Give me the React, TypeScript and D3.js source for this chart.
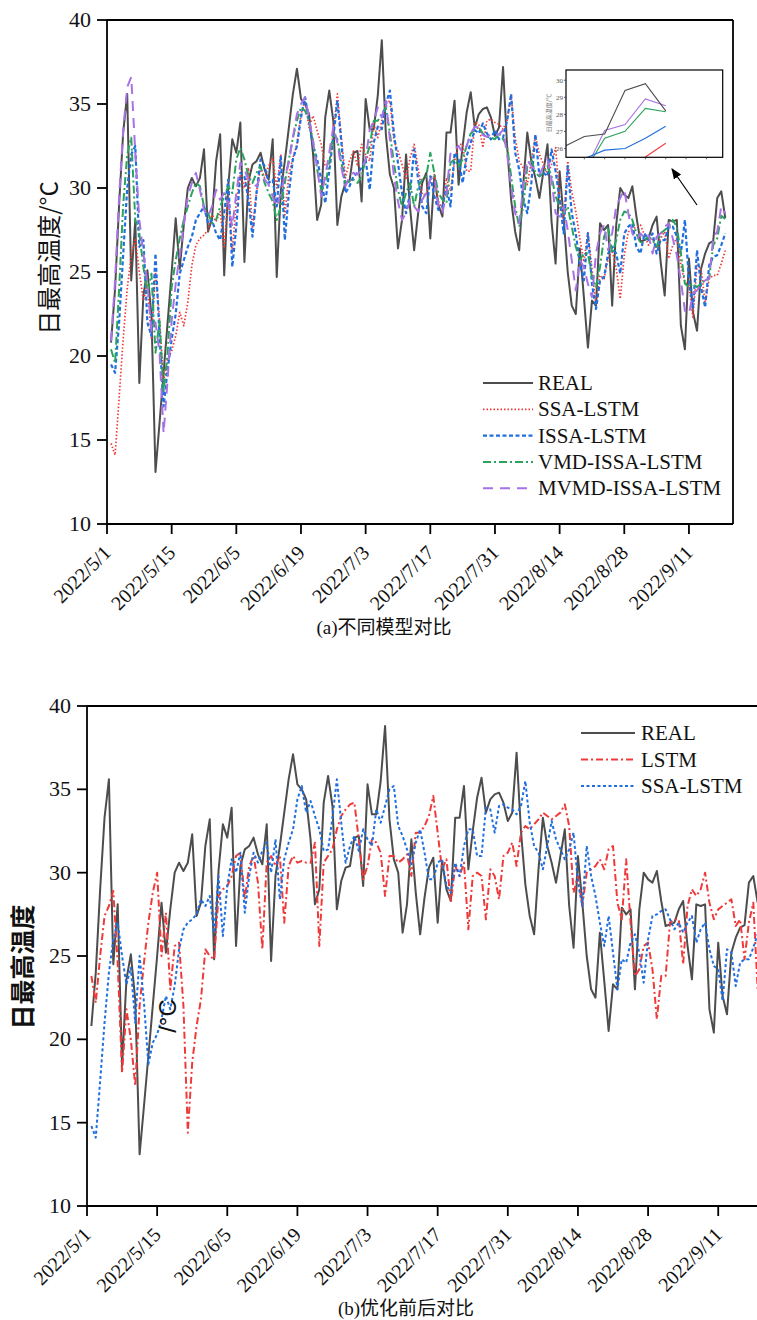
import React from 'react';
import * as d3 from 'd3';

// x axis: one tick every 16 points, labelled with these dates
const dateLabels = [
  '2022/5/1', '2022/5/15', '2022/6/5', '2022/6/19', '2022/7/3',
  '2022/7/17', '2022/7/31', '2022/8/14', '2022/8/28', '2022/9/11',
];
const TICK_EVERY = 16;
const yTicks = [10, 15, 20, 25, 30, 35, 40];

const real = [
  20.8, 24.0, 29.0, 33.3, 35.6, 24.5, 28.1, 18.4, 23.6, 25.1,
  22.4, 13.1, 16.0, 19.0, 22.0, 25.0, 28.2, 25.2, 27.8, 30.0,
  30.6, 30.1, 30.6, 32.3, 27.4, 28.2, 31.6, 33.2, 24.8, 30.1,
  32.9, 32.1, 33.9, 25.6, 30.4, 31.4, 31.6, 32.1, 31.1, 30.5,
  32.9, 24.7, 29.8, 31.6, 33.6, 35.6, 37.1, 35.3, 35.0, 34.4,
  32.0, 28.1, 29.0, 34.2, 35.8, 34.0, 27.8, 29.5, 30.3, 30.4,
  32.1, 32.2, 29.2, 35.3, 33.5, 33.5, 35.5, 38.8, 33.2, 30.8,
  30.0, 26.4, 28.1, 32.0, 28.8, 26.3, 28.5, 30.3, 30.9, 27.0,
  30.7, 29.0, 28.3, 33.3, 33.3, 35.2, 30.2, 32.5, 34.5, 35.7,
  33.6, 34.4, 34.7, 34.8, 34.2, 33.1, 33.6, 37.2, 32.5, 29.3,
  27.4, 26.3, 30.2, 33.3, 31.6, 30.6, 29.4, 31.0, 32.6, 28.0,
  25.5, 31.0, 28.2, 25.0, 23.0, 22.5, 26.4, 23.5, 20.5, 23.3,
  23.0, 27.9, 27.5, 27.8, 23.0, 27.8, 30.0, 29.6, 29.4, 30.1,
  28.3, 26.8, 26.9, 27.0, 27.8, 28.3, 25.6, 23.6, 28.1, 28.0,
  28.1, 21.8, 20.4, 25.8, 22.6, 21.5, 25.2, 26.1, 26.7, 26.85,
  29.4, 29.8, 28.2,
];

const ssaLstm = [
  14.8, 14.1, 17.5, 21.0, 24.0, 26.0, 27.0, 25.0, 23.3, 24.3,
  21.0, 25.0, 22.2, 18.5, 19.8, 20.3, 21.2, 22.6, 21.8, 23.2,
  25.4, 26.6, 27.0, 27.2, 27.5, 28.4, 28.0, 28.6, 26.4, 29.8,
  26.2, 29.2, 30.8, 30.0, 31.2, 27.6, 29.8, 31.2, 30.6, 31.3,
  31.8, 30.0, 32.0, 28.4, 30.8, 31.8, 32.6, 34.4, 35.2, 33.6,
  34.3, 33.4, 32.6, 31.3, 31.4, 33.3, 35.6, 33.0, 30.6, 31.6,
  32.2, 31.3, 32.6, 32.0, 31.6, 33.8, 33.0, 34.0, 35.0, 35.2,
  32.8, 32.2, 31.4, 30.5, 31.8, 32.6, 31.2, 29.6, 29.6, 30.6,
  30.8, 29.2, 28.8, 30.6, 29.8, 31.6, 32.6, 32.6, 31.0, 31.0,
  33.9, 33.8, 32.4, 34.0, 34.1, 33.9, 33.8, 33.5, 34.0, 35.5,
  33.0, 31.6, 31.2, 30.2, 31.6, 33.1, 32.0, 31.4, 30.8, 31.4,
  32.4, 29.4, 28.0, 31.6, 29.8, 28.6, 27.0, 25.6, 27.4, 25.2,
  23.0, 24.8, 24.6, 25.8, 26.3, 25.2, 23.4, 26.0, 27.4, 27.5,
  27.7, 27.8, 27.2, 26.6, 27.0, 26.4, 27.0, 27.4, 25.8, 26.6,
  27.0, 25.4, 24.4, 24.2, 22.3, 25.4, 25.2, 23.2, 24.6, 24.8,
  24.8, 25.5, 26.3,
];

const issaLstm = [
  19.5, 19.0, 22.0, 26.0, 30.0, 32.0, 32.5, 26.5, 26.9, 22.0,
  21.2, 26.1, 21.2, 17.0, 19.2, 21.0, 22.5, 24.9, 25.7, 26.5,
  27.1, 28.1, 28.5, 28.9, 27.9, 28.1, 27.3, 26.9, 28.5, 30.5,
  25.3, 27.7, 30.9, 30.7, 29.3, 27.1, 29.7, 31.7, 31.3, 30.3,
  30.5, 28.9, 31.9, 26.9, 29.7, 31.7, 32.5, 34.2, 35.4, 34.0,
  32.5, 31.7, 30.5, 29.1, 31.0, 33.0, 35.2, 32.7, 29.7, 30.1,
  30.7, 30.9, 31.2, 31.7, 29.9, 32.7, 33.65, 33.5, 35.0, 35.8,
  33.25, 31.5, 29.7, 28.5, 29.7, 32.3, 30.5, 28.9, 28.5, 30.7,
  29.5, 28.7, 28.9, 30.1, 28.9, 32.1, 31.7, 30.3, 31.9, 32.7,
  33.45, 33.25, 33.85, 33.25, 32.9, 33.45, 32.9, 33.0, 34.0, 35.6,
  32.1, 31.1, 29.3, 28.5, 30.3, 33.2, 30.7, 30.9, 30.7, 32.3,
  31.0, 29.3, 27.3, 31.3, 28.5, 27.3, 25.5, 24.5, 27.3, 24.3,
  22.8, 24.5, 24.7, 26.1, 26.5, 26.1, 24.9, 27.3, 27.7, 27.9,
  26.5, 26.1, 27.3, 26.9, 27.3, 26.1, 26.9, 26.9, 27.7, 27.7,
  27.1, 26.1, 28.1, 24.5, 22.9, 26.3, 24.1, 22.9, 25.4, 25.9,
  26.0, 26.6, 27.3,
];

const vmdIssaLstm = [
  20.4, 19.6, 24.0, 29.0, 32.0, 33.0, 28.1, 27.3, 25.3, 23.7,
  24.9, 20.2, 22.1, 17.8, 20.2, 24.1, 25.7, 27.0, 28.1, 28.9,
  29.7, 30.3, 30.1, 28.9, 28.5, 27.9, 28.1, 28.9, 29.5, 30.1,
  29.7, 31.7, 32.4, 31.7, 30.7, 30.3, 30.9, 31.3, 30.3, 29.7,
  29.2, 28.1, 28.9, 30.3, 31.7, 33.0, 34.0, 34.8, 34.6, 34.0,
  32.8, 31.1, 29.9, 30.1, 31.5, 33.25, 32.9, 31.5, 30.3, 30.4,
  30.5, 30.3, 30.7, 31.7, 32.5, 34.0, 34.0, 34.4, 34.8, 33.25,
  31.5, 29.9, 28.9, 29.7, 30.3, 28.9, 30.1, 30.5, 30.7, 32.1,
  30.9, 29.7, 29.3, 29.1, 31.5, 31.7, 31.3, 31.7, 32.5, 33.25,
  33.45, 33.65, 33.25, 33.05, 33.0, 32.9, 33.25, 32.9, 32.5, 30.7,
  28.9, 27.7, 28.9, 31.3, 31.7, 30.9, 30.7, 30.9, 31.3, 30.7,
  29.5, 28.9, 28.5, 28.9, 27.7, 26.5, 25.7, 26.1, 26.1, 24.7,
  24.1, 25.3, 27.1, 27.7, 26.1, 26.9, 28.1, 28.6, 28.5, 28.1,
  27.3, 26.7, 26.9, 27.1, 26.9, 26.5, 27.3, 27.5, 27.7, 28.1,
  27.7, 26.1, 24.3, 24.1, 24.3, 24.1, 24.3, 24.5, 24.6, 26.6,
  27.0, 28.35, 28.15,
];

const mvmdIssaLstm = [
  20.9, 24.5, 29.5, 33.4, 36.0, 36.6, 32.1, 28.1, 26.1, 24.3,
  21.5, 22.0, 20.2, 15.4, 18.6, 22.1, 24.3, 26.0, 27.8, 29.5,
  30.3, 30.9, 29.9, 28.7, 28.3, 28.9, 29.9, 29.3, 29.7, 29.1,
  27.7, 29.7, 31.5, 31.1, 30.5, 30.3, 30.1, 30.7, 30.5, 30.2,
  29.5, 28.9, 29.7, 30.7, 31.5, 33.0, 34.4, 35.0, 35.4, 34.2,
  32.7, 31.2, 29.5, 30.7, 32.1, 33.65, 32.7, 31.2, 30.1, 30.7,
  30.9, 30.8, 31.1, 31.7, 33.45, 34.0, 34.8, 34.2, 35.2, 32.9,
  30.7, 29.2, 28.1, 28.5, 29.3, 28.9, 28.6, 29.3, 29.7, 30.5,
  30.7, 28.9, 28.5, 29.7, 32.1, 32.3, 32.5, 32.1, 32.5, 33.25,
  33.65, 33.6, 33.15, 33.05, 33.2, 33.1, 33.2, 33.45, 32.0, 30.1,
  28.5, 27.9, 30.1, 31.7, 31.3, 31.1, 30.8, 31.3, 31.7, 30.5,
  28.5, 28.3, 28.9, 27.5, 25.7, 23.9, 25.7, 25.3, 24.3, 23.5,
  26.1, 27.3, 27.8, 26.3, 27.3, 28.9, 29.4, 29.9, 28.5, 27.3,
  26.9, 27.3, 27.0, 27.2, 26.1, 27.1, 27.3, 27.7, 27.9, 27.0,
  26.0, 24.5, 22.7, 22.5, 23.7, 23.9, 24.3, 24.5, 24.6, 27.05,
  27.4, 28.9, 28.5,
];

const lstm = [
  23.8, 22.2, 25.0, 27.4, 28.0, 28.9, 24.6, 18.0, 21.8, 20.0,
  17.2, 22.0, 24.6, 27.0, 28.8, 30.0, 25.0, 27.6, 23.0, 25.6,
  25.8, 22.0, 14.4, 18.6, 20.8, 22.4, 25.4, 25.0, 24.8, 28.6,
  29.0, 29.2, 29.8, 31.0, 31.2, 28.4, 30.4, 31.0, 29.4, 25.4,
  30.6, 31.0, 30.4, 31.0, 27.0, 30.4, 31.0, 30.6, 30.7, 30.6,
  30.6, 31.8, 25.6, 30.6, 31.0, 31.4, 32.6, 33.4, 33.8, 34.1,
  34.2, 32.0, 29.6, 30.4, 32.0, 31.8, 31.2, 28.6, 31.0, 31.0,
  30.6, 30.8, 31.1, 29.8, 32.4, 32.4, 32.8, 33.4, 34.6, 32.4,
  30.2, 30.8, 28.2, 30.4, 29.8, 30.6, 26.6, 29.8, 30.0, 29.8,
  27.2, 30.2, 29.8, 28.4, 31.0, 31.2, 31.8, 30.4, 32.4, 32.8,
  32.6, 32.9, 33.2, 33.6, 33.4, 33.2, 33.4, 33.6, 34.1, 32.8,
  28.8, 29.8, 28.0, 30.0, 30.2, 30.4, 30.8, 30.2, 31.4, 31.6,
  28.2, 27.2, 30.8, 27.0, 23.8, 24.2, 25.6, 25.8, 24.2, 21.2,
  23.8, 23.8, 27.0, 27.2, 27.2, 24.5, 28.0, 29.0, 28.6, 29.0,
  30.0, 28.2, 27.2, 27.8, 28.0, 28.2, 28.4, 26.8, 27.2, 24.8,
  27.0, 28.2, 23.0,
];

const serif = '"Liberation Serif", "DejaVu Serif", serif';
const cjk = '"Noto Sans CJK SC", sans-serif';
const GRAY = '#4d4d4d';
const RED = '#f03a3a';
const BLUE = '#1f6fe0';
const GREEN = '#2aa35c';
const PURPLE = '#a872e6';

type Series = { name: string; values: number[]; color: string; width: number; dash?: string };

const seriesA: Series[] = [
  { name: 'REAL', values: real, color: GRAY, width: 2 },
  { name: 'SSA-LSTM', values: ssaLstm, color: RED, width: 1.7, dash: '1.5,2' },
  { name: 'ISSA-LSTM', values: issaLstm, color: BLUE, width: 2.2, dash: '4,2.5' },
  { name: 'VMD-ISSA-LSTM', values: vmdIssaLstm, color: GREEN, width: 2, dash: '8,3,2,3' },
  { name: 'MVMD-ISSA-LSTM', values: mvmdIssaLstm, color: PURPLE, width: 2, dash: '10,7' },
];

const seriesB: Series[] = [
  { name: 'REAL', values: real, color: GRAY, width: 2 },
  { name: 'LSTM', values: lstm, color: RED, width: 2, dash: '7,3,2,3' },
  { name: 'SSA-LSTM', values: ssaLstm, color: BLUE, width: 2, dash: '3,2.5' },
];

const N_DOMAIN = 154.9;

type PanelProps = {
  id: string;
  left: number; right: number; top: number; bottom: number;
  series: Series[];
  legend: { x1: number; x2: number; tx: number; y0: number; step: number };
  frameRight: boolean;
};

const Panel = ({ id, left, right, top, bottom, series, legend, frameRight }: PanelProps) => {
  const x = d3.scaleLinear().domain([0, N_DOMAIN]).range([left, right]);
  const y = d3.scaleLinear().domain([10, 40]).range([bottom, top]);
  const line = d3.line<number>().x((_, i) => x(i + 1)).y(d => y(d));
  const xTicks = dateLabels.map((_, i) => i * TICK_EVERY);

  return (
    <g>
      <defs>
        <clipPath id={`clip-${id}`}>
          <rect x={left} y={top} width={right - left} height={bottom - top} />
        </clipPath>
      </defs>
      <g clipPath={`url(#clip-${id})`}>
        {series.map(s => (
          <path key={s.name} d={line(s.values) || ''} fill="none" stroke={s.color}
            strokeWidth={s.width} strokeDasharray={s.dash} strokeLinejoin="round" />
        ))}
      </g>
      {/* frame */}
      <line x1={left} x2={right} y1={top} y2={top} stroke="#000" strokeWidth={1.8} />
      <line x1={left} x2={right} y1={bottom} y2={bottom} stroke="#000" strokeWidth={1.8} />
      <line x1={left} x2={left} y1={top} y2={bottom} stroke="#000" strokeWidth={1.8} />
      {frameRight && <line x1={right} x2={right} y1={top} y2={bottom} stroke="#000" strokeWidth={1.8} />}
      {/* y axis */}
      {yTicks.map(t => (
        <g key={t}>
          <line x1={left - 10} x2={left} y1={y(t)} y2={y(t)} stroke="#000" strokeWidth={1.8} />
          <text x={left - 16} y={y(t) + 7} textAnchor="end" fontFamily={serif} fontSize={22} fill="#111">{t}</text>
        </g>
      ))}
      {/* x axis */}
      {xTicks.map((t, i) => (
        <g key={t}>
          <line x1={x(t)} x2={x(t)} y1={bottom} y2={bottom + 10} stroke="#000" strokeWidth={1.8} />
          <text transform={`translate(${x(t) + 5},${bottom + 30}) rotate(-45)`} textAnchor="end"
            fontFamily={serif} fontSize={20} fill="#111">{dateLabels[i]}</text>
        </g>
      ))}
      {/* legend */}
      {series.map((s, i) => {
        const ly = legend.y0 + i * legend.step;
        return (
          <g key={s.name}>
            <line x1={legend.x1} x2={legend.x2} y1={ly} y2={ly} stroke={s.color}
              strokeWidth={s.width} strokeDasharray={s.dash} />
            <text x={legend.tx} y={ly + 7} fontFamily={serif} fontSize={21} fill="#111">{s.name}</text>
          </g>
        );
      })}
    </g>
  );
};

const Inset = () => {
  const box = { left: 566, right: 722.7, top: 70, bottom: 157.3 };
  const x = d3.scaleLinear().domain([148.1, 155.8]).range([box.left, box.right]);
  const y = d3.scaleLinear().domain([25.48, 30.6]).range([box.bottom, box.top]);
  const line = d3.line<number>().x((_, i) => x(i + 1)).y(d => y(d));
  const insetTicks = [26, 27, 28, 29, 30];
  const insetX = d3.range(149, 156);
  return (
    <g>
      <defs>
        <clipPath id="clip-inset">
          <rect x={box.left} y={box.top} width={box.right - box.left} height={box.bottom - box.top} />
        </clipPath>
        <marker id="arrowhead" viewBox="0 0 10 10" refX="9" refY="5" markerWidth="9" markerHeight="9" orient="auto">
          <path d="M0,1 L10,5 L0,9 Z" fill="#000" />
        </marker>
      </defs>
      <rect x={box.left} y={box.top} width={box.right - box.left} height={box.bottom - box.top} fill="#fff" stroke="none" />
      <g clipPath="url(#clip-inset)">
        {[...seriesA].reverse().map(s => (
          <path key={s.name} d={line(s.values) || ''} fill="none" stroke={s.color} strokeWidth={1.1} />
        ))}
      </g>
      <rect x={box.left} y={box.top} width={box.right - box.left} height={box.bottom - box.top} fill="none" stroke="#000" strokeWidth={1.2} />
      {insetTicks.map(t => (
        <g key={t}>
          <line x1={box.left - 2} x2={box.left} y1={y(t)} y2={y(t)} stroke="#333" strokeWidth={0.8} />
          <text x={box.left - 3} y={y(t) + 2.5} textAnchor="end" fontFamily={serif} fontSize={7} fill="#555">{t}</text>
        </g>
      ))}
      {insetX.map(t => (
        <line key={t} x1={x(t)} x2={x(t)} y1={box.bottom} y2={box.bottom + 2} stroke="#333" strokeWidth={0.8} />
      ))}
      <text transform={`translate(551,113) rotate(-90)`} textAnchor="middle" fontFamily={cjk} fontSize={6} fill="#777">日最高温度/℃</text>
      <line x1={697} y1={205} x2={672} y2={169} stroke="#000" strokeWidth={1.2} markerEnd="url(#arrowhead)" />
    </g>
  );
};

const App = () => {
  return (
    <svg width={757} height={1320} style={{ position: 'absolute', left: 0, top: 0, background: '#fff' }}>
      <rect width={757} height={1320} fill="#fff" />
      <Panel id="a" left={107} right={733} top={20} bottom={524} series={seriesA}
        legend={{ x1: 483, x2: 533, tx: 538, y0: 383, step: 26.3 }} frameRight />
      <Inset />
      <text transform="translate(58,258) rotate(-90)" textAnchor="middle" fontFamily={cjk} fontSize={24} fill="#111">日最高温度/°C</text>
      <text x={384} y={634} textAnchor="middle" fontFamily={`${serif}, ${cjk}`} fontSize={19} fill="#111">(a)不同模型对比</text>

      <Panel id="b" left={87} right={766} top={706} bottom={1206} series={seriesB}
        legend={{ x1: 581, x2: 635, tx: 641, y0: 733, step: 26.5 }} frameRight={false} />
      <text transform="translate(32,967) rotate(-90)" textAnchor="middle" fontFamily={cjk} fontWeight="bold" fontSize={25} fill="#111">日最高温度</text>
      <text transform="translate(176,1016) rotate(-90)" textAnchor="middle" fontFamily={'"Liberation Sans", Arial, sans-serif'} fontSize={24} fill="#111">/°C</text>
      <text x={406} y={1315} textAnchor="middle" fontFamily={`${serif}, ${cjk}`} fontSize={19} fill="#111">(b)优化前后对比</text>
    </svg>
  );
};

export default App;
